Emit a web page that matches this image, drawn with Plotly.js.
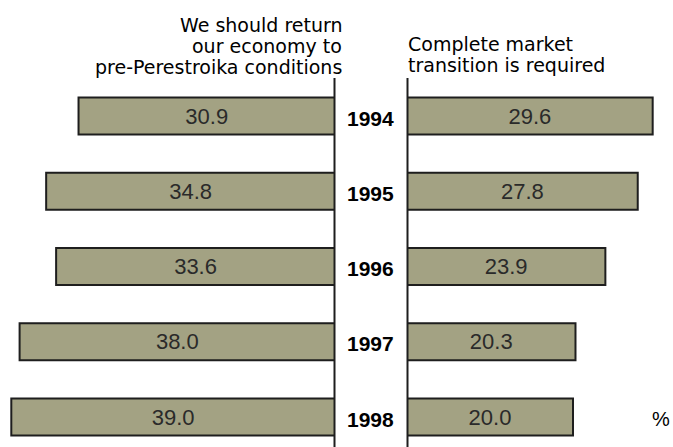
<!DOCTYPE html>
<html>
<head>
<meta charset="utf-8">
<script src="https://cdn.plot.ly/plotly-3.0.1.min.js"></script>
<style>
  html, body { margin: 0; padding: 0; background: #ffffff; }
  #chart { width: 673px; height: 447px; }
</style>
</head>
<body>
<div id="chart"></div>
<script>
// ---- data ----
var years = ["1994", "1995", "1996", "1997", "1998"];
var returnToPast = [30.9, 34.8, 33.6, 38.0, 39.0];
var marketTransition = [29.6, 27.8, 23.9, 20.3, 20.0];
var leftTitleLines = ["We should return", "our economy to", "pre-Perestroika conditions"];
var rightTitleLines = ["Complete market", "transition is required"];
var unitLabel = "%";

// ---- styling ----
var W = 673, H = 447;
var barFill = "#a3a283";
var barEdge = "#1e1e1e";
var pxPerUnit = 8.3;
var leftZero = 335, rightZero = 407;
var firstCenter = 116, rowStep = 75.25;

var titleFont = {family: "DejaVu Sans", size: 19, color: "#000000"};
var valueFont = {family: "Liberation Sans, Arial", size: 22, color: "#2a2a2a"};
var yearFont = {family: "Liberation Sans, Arial", size: 21, color: "#000000"};

var yTop = -firstCenter / rowStep;
var yBottom = (H - firstCenter) / rowStep;
// category index -> paper fraction (same mapping as the y axis)
function rowToPaper(i) { return (yBottom - i) / (yBottom - yTop); }

var traces = [
  {
    type: "bar", orientation: "h",
    y: years, x: returnToPast,
    xaxis: "x", yaxis: "y",
    width: 0.49,
    marker: {color: barFill, line: {color: barEdge, width: 2}},
    text: returnToPast.map(function (v) { return v.toFixed(1); }),
    textposition: "inside", insidetextanchor: "middle",
    textangle: 0, constraintext: "none",
    textfont: valueFont,
    hoverinfo: "skip"
  },
  {
    type: "bar", orientation: "h",
    y: years, x: marketTransition,
    xaxis: "x2", yaxis: "y",
    width: 0.49,
    marker: {color: barFill, line: {color: barEdge, width: 2}},
    text: marketTransition.map(function (v) { return v.toFixed(1); }),
    textposition: "inside", insidetextanchor: "middle",
    textangle: 0, constraintext: "none",
    textfont: valueFont,
    hoverinfo: "skip"
  }
];

var annotations = [];
years.forEach(function (yr, i) {
  annotations.push({
    xref: "paper", yref: "paper", x: 370 / W, y: rowToPaper(i),
    text: "<b>" + yr + "</b>", showarrow: false,
    xanchor: "center", yanchor: "middle", yshift: -2,
    font: yearFont
  });
});
var leftBaselines = [33, 54, 75];
leftTitleLines.forEach(function (t, i) {
  annotations.push({
    xref: "paper", yref: "paper", x: 344 / W, y: 1 - leftBaselines[i] / H,
    text: t, showarrow: false, xanchor: "right", yanchor: "bottom",
    yshift: -5, font: titleFont
  });
});
var rightBaselines = [52, 73];
rightTitleLines.forEach(function (t, i) {
  annotations.push({
    xref: "paper", yref: "paper", x: 406 / W, y: 1 - rightBaselines[i] / H,
    text: t, showarrow: false, xanchor: "left", yanchor: "bottom",
    yshift: -5, font: titleFont
  });
});
annotations.push({
  xref: "paper", yref: "paper", x: 661 / W, y: rowToPaper(years.length - 1),
  text: unitLabel, showarrow: false, xanchor: "center", yanchor: "middle",
  yshift: -2, font: {family: "Liberation Sans, Arial", size: 20, color: "#000000"}
});

var lineTop = 1 - 78 / H;
var shapes = [
  {type: "line", xref: "paper", yref: "paper", x0: 334.5 / W, x1: 334.5 / W, y0: lineTop, y1: 0,
   line: {color: "#1e1e1e", width: 2}, layer: "above"},
  {type: "line", xref: "paper", yref: "paper", x0: 407.5 / W, x1: 407.5 / W, y0: lineTop, y1: 0,
   line: {color: "#1e1e1e", width: 2}, layer: "above"}
];

var layout = {
  width: W, height: H,
  margin: {l: 0, r: 0, t: 0, b: 0, pad: 0},
  paper_bgcolor: "#ffffff", plot_bgcolor: "#ffffff",
  showlegend: false,
  barmode: "overlay",
  xaxis: {domain: [0, leftZero / W], range: [leftZero / pxPerUnit, 0],
          visible: false, fixedrange: true},
  xaxis2: {domain: [rightZero / W, 1], range: [0, (W - rightZero) / pxPerUnit],
           visible: false, fixedrange: true},
  yaxis: {type: "category", categoryorder: "array", categoryarray: years,
          range: [yBottom, yTop], visible: false, fixedrange: true},
  annotations: annotations,
  shapes: shapes
};

Plotly.newPlot("chart", traces, layout, {displayModeBar: false, staticPlot: true});
</script>
</body>
</html>
